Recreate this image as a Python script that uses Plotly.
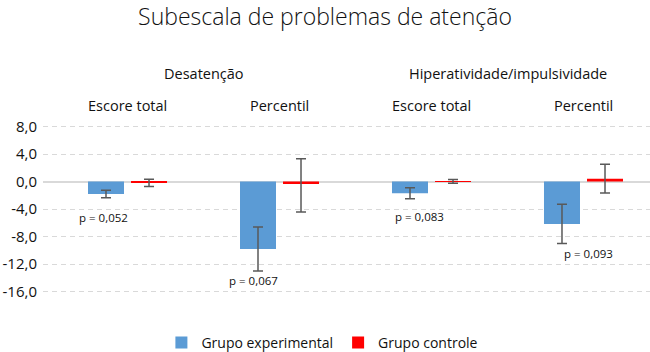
import plotly.graph_objects as go

# ---- data ----
subcategories = ["Escore total", "Percentil", "Escore total", "Percentil"]
groups = ["Desatenção", "Hiperatividade/impulsividade"]
experimental = [-1.8, -9.8, -1.7, -6.15]
experimental_err = [0.55, 3.2, 0.8, 2.85]
controle = [-0.15, -0.35, 0.05, 0.4]
controle_err_plus = [0.5, 3.65, 0.25, 2.1]
controle_err_minus = [0.58, 4.05, 0.3, 2.05]
p_labels = ["p = 0,052", "p = 0,067", "p = 0,083", "p = 0,093"]
y_ticks = [8, 4, 0, -4, -8, -12, -16]
y_ticktext = ["8,0", "4,0", "0,0", "-4,0", "-8,0", "-12,0", "-16,0"]

# ---- styling / placement ----
FONT = "Open Sans"
BLUE = "#5B9BD5"
RED = "#FF0000"
ERR = "#595959"
GRID = "#D9D9D9"
TXT = "#111111"
p_pos_x = [-0.155, 0.83, 1.92, 3.03]
p_pos_y = [-5.2, -14.4, -5.1, -10.5]

W, H = 650, 352
M_T, M_B, M_L = 121, 52, 43
plot_top, plot_bot = M_T, H - M_B


def paper_y(page_y):
    return (plot_bot - page_y) / (plot_bot - plot_top)


x = list(range(len(subcategories)))

fig = go.Figure()
fig.add_trace(go.Bar(
    x=x, y=experimental, name="Grupo experimental",
    marker=dict(color=BLUE, line=dict(width=0)),
    error_y=dict(type="data", array=experimental_err, color=ERR, thickness=1.5, width=5),
))
fig.add_trace(go.Bar(
    x=x, y=controle, name="Grupo controle",
    marker=dict(color=RED, line=dict(width=0)),
    error_y=dict(type="data", symmetric=False, array=controle_err_plus,
                 arrayminus=controle_err_minus, color=ERR, thickness=1.5, width=5),
))

annotations = []
for i, lab in enumerate(subcategories):
    annotations.append(dict(x=i, y=paper_y(106), xref="x", yref="paper", yanchor="middle",
                            text=lab, showarrow=False, font=dict(family=FONT, size=14.5, color=TXT)))
for j, g in enumerate(groups):
    annotations.append(dict(x=2 * j + 0.5, y=paper_y(73), xref="x", yref="paper", yanchor="middle",
                            text=g, showarrow=False, font=dict(family=FONT, size=14.5, color=TXT)))
for i, lab in enumerate(p_labels):
    annotations.append(dict(x=p_pos_x[i], y=p_pos_y[i], xref="x", yref="y",
                            text=lab, showarrow=False, font=dict(family=FONT, size=11.5, color=TXT)))

fig.update_layout(
    width=W, height=H,
    margin=dict(l=M_L, r=0, t=M_T, b=M_B, autoexpand=False),
    paper_bgcolor="white", plot_bgcolor="white",
    barmode="group", bargap=0.434, bargroupgap=0.163,
    title=dict(text="Subescala de problemas de atenção", x=0.5, xanchor="center",
               y=1 - 17 / H, yanchor="middle", yref="container",
               font=dict(family=FONT, size=23, color=TXT, weight=300)),
    xaxis=dict(range=[-0.556, 3.4375], showticklabels=False, showgrid=False,
               zeroline=False, showline=False, ticks="", automargin=False),
    yaxis=dict(range=[-17.2, 8.8], tickvals=y_ticks, ticktext=y_ticktext,
               showgrid=True, gridcolor=GRID, griddash="5px,4px", gridwidth=1,
               zeroline=True, zerolinecolor=GRID, zerolinewidth=1.5,
               showline=False, ticks="", ticklabelstandoff=5, automargin=False,
               tickfont=dict(family=FONT, size=15, color=TXT)),
    legend=dict(orientation="h", x=0.496, xanchor="center", xref="container",
                y=paper_y(343), yanchor="middle", yref="paper",
                font=dict(family=FONT, size=14, color=TXT), itemwidth=30),
    annotations=annotations,
    showlegend=True,
)

fig.write_html("out.html", config={"displayModeBar": False},
               post_script="document.body.style.margin='0';")
